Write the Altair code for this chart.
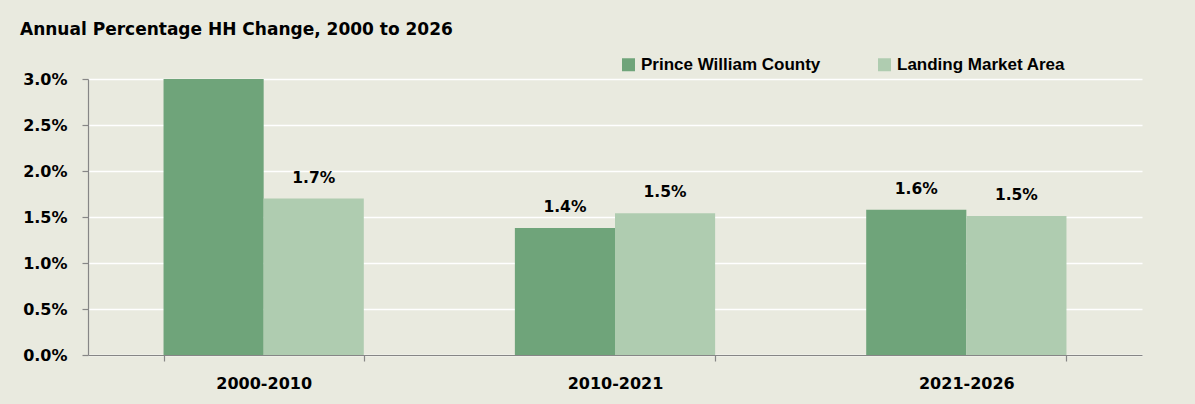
import altair as alt
import pandas as pd

periods = ["2000-2010", "2010-2021", "2021-2026"]
series_names = ["Prince William County", "Landing Market Area"]
pwc_values = [0.0300, 0.0138, 0.0158]
lma_values = [0.0170, 0.0154, 0.0151]
pwc_labels = ["", "1.4%", "1.6%"]
lma_labels = ["1.7%", "1.5%", "1.5%"]
y_ticks = [0.0, 0.005, 0.01, 0.015, 0.02, 0.025, 0.03]
colors = ["#6FA47A", "#AFCCB0"]

rows = []
for i, p in enumerate(periods):
    rows.append({"period": p, "series": series_names[0], "value": pwc_values[i], "label": pwc_labels[i]})
    rows.append({"period": p, "series": series_names[1], "value": lma_values[i], "label": lma_labels[i]})
df = pd.DataFrame(rows)

FONT = "DejaVu Sans"
LEGEND_FONT = "Liberation Sans"
BG = "#E9EADF"

x_enc = alt.X("period:N", sort=periods, title=None,
              scale=alt.Scale(paddingInner=0.43, paddingOuter=0.215),
              axis=alt.Axis(labelAngle=0, labelFontSize=16, labelFontWeight="bold", labelFont=FONT,
                            labelColor="#000000", domainColor="#868686", tickColor="#868686",
                            tickBand="extent", tickSize=6, labelPadding=14, grid=False))
xo_enc = alt.XOffset("series:N", sort=series_names)

bars = alt.Chart(df).mark_bar().encode(
    x=x_enc,
    xOffset=xo_enc,
    y=alt.Y("value:Q", title=None,
            scale=alt.Scale(domain=[0, 0.03], nice=False),
            axis=alt.Axis(values=y_ticks, format=".1%", labelFontSize=16, labelFontWeight="bold",
                          labelFont=FONT, labelColor="#000000", domainColor="#868686",
                          tickColor="#868686", tickSize=6, labelPadding=15,
                          gridColor="#FFFFFF", gridWidth=1.5)),
    color=alt.Color("series:N", sort=series_names,
                    scale=alt.Scale(domain=series_names, range=colors),
                    legend=alt.Legend(title=None, orient="none", direction="horizontal",
                                      legendX=532, legendY=-23, symbolType="square",
                                      symbolSize=169, symbolStrokeWidth=0, labelFont=LEGEND_FONT,
                                      labelFontSize=17, labelFontWeight="bold", labelColor="#000000",
                                      columnPadding=55, labelOffset=4, padding=0, labelLimit=0)),
)

texts = alt.Chart(df).mark_text(dy=-16, fontSize=15.5, fontWeight="bold", font=FONT,
                                color="#000000", baseline="alphabetic").encode(
    x=alt.X("period:N", sort=periods),
    xOffset=xo_enc,
    y=alt.Y("value:Q"),
    text="label:N",
)

chart = alt.layer(bars, texts).properties(
    width=1054, height=276,
    title=alt.TitleParams("Annual Percentage HH Change, 2000 to 2026", anchor="start",
                          frame="group", dx=-68, offset=12, fontSize=17, fontWeight="bold",
                          font=FONT, color="#000000"),
    autosize=alt.AutoSizeParams(type="none"),
    padding={"left": 88, "top": 79, "right": 53, "bottom": 49},
    background=BG,
).configure_view(stroke=None).configure_axis(domainWidth=1.2, tickWidth=1.2)

chart.save("out.html", embed_options={"renderer": "svg", "actions": False})
